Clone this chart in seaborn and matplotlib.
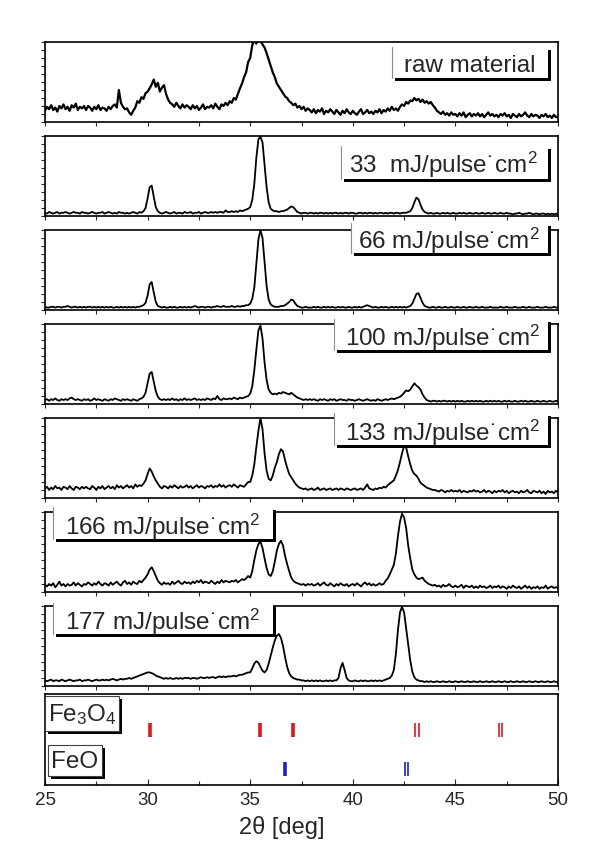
import numpy as np
import seaborn as sns
import matplotlib.pyplot as plt
from matplotlib.patches import Rectangle
from matplotlib.lines import Line2D
from matplotlib.ticker import MultipleLocator

# 2theta grid, 0.1 deg step
two_theta = np.round(np.arange(250, 501) / 10, 1)

# intensities in % of panel height
raw = [
    14, 19, 16, 21, 15, 18, 13, 20, 17, 22,
    16, 19, 14, 21, 18, 23, 15, 19, 17, 20,
    15, 20, 18, 14, 19, 16, 21, 15, 18, 17,
    14, 19, 16, 20, 22, 18, 40, 24, 19, 16,
    17, 12, 9, 14, 18, 26, 24, 31, 29, 36,
    38, 42, 47, 53, 44, 49, 38, 43, 46, 35,
    28, 24, 22, 19, 24, 20, 17, 22, 18, 21,
    19, 16, 21, 17, 20, 15, 18, 22, 16, 19,
    18, 21, 17, 23, 19, 16, 22, 20, 24, 21,
    26, 24, 30, 28, 35, 42, 48, 56, 62, 75,
    80, 96, 104, 98, 106, 101, 97, 93, 86, 78,
    70, 62, 56, 48, 44, 40, 36, 32, 30, 26,
    24, 21, 23, 18, 20, 16, 19, 14, 17, 15,
    12, 16, 11, 15, 13, 17, 10, 14, 12, 16,
    13, 10, 15, 12, 9, 14, 11, 16, 12, 10,
    14, 11, 9, 13, 16, 10, 12, 15, 11, 13,
    10, 14, 12, 16, 11, 15, 13, 17, 14, 19,
    15, 17, 14, 19, 22, 20, 25, 23, 27, 26,
    30, 27, 29, 25, 28, 24, 26, 23, 25, 21,
    18, 14, 12, 10, 13, 9, 11, 8, 12, 9,
    10, 7, 11, 8, 12, 6, 9, 11, 7, 10,
    8, 11, 7, 10, 6, 9, 12, 8, 10, 7,
    9, 6, 10, 8, 11, 7, 9, 5, 10, 8,
    6, 10, 7, 9, 12, 8, 6, 10, 7, 9,
    8, 5, 9, 7, 10, 6, 8, 5, 9, 6,
    7]

p33 = [
    4, 3, 5, 4, 3, 4, 5, 3, 4, 4,
    5, 4, 3, 4, 5, 4, 4, 3, 5, 4,
    4, 3, 4, 5, 4, 3, 4, 4, 5, 3,
    4, 5, 4, 3, 4, 3, 5, 4, 4, 3,
    4, 3, 4, 5, 4, 3, 5, 4, 6, 10,
    22, 36, 38, 24, 11, 6, 4, 3, 4, 5,
    4, 3, 4, 5, 3, 4, 4, 3, 5, 4,
    4, 5, 3, 4, 4, 5, 3, 4, 5, 4,
    4, 5, 4, 5, 4, 5, 5, 4, 7, 5,
    5, 6, 5, 6, 5, 7, 6, 7, 8, 9,
    11, 20, 40, 73, 96, 99, 92, 64, 36, 17,
    9, 7, 6, 6, 5, 6, 6, 7, 8, 10,
    12, 11, 8, 5, 4, 3, 4, 4, 3, 4,
    4, 3, 4, 3, 4, 4, 3, 4, 3, 4,
    3, 4, 4, 3, 4, 3, 4, 4, 3, 4,
    4, 3, 3, 4, 4, 3, 4, 3, 4, 4,
    3, 4, 3, 4, 4, 3, 4, 3, 4, 4,
    3, 4, 4, 3, 4, 4, 4, 5, 6, 10,
    17, 23, 21, 14, 8, 5, 4, 3, 4, 3,
    3, 4, 3, 3, 4, 3, 4, 3, 3, 4,
    3, 3, 4, 3, 4, 3, 3, 4, 3, 3,
    4, 3, 3, 4, 3, 3, 4, 3, 3, 4,
    3, 3, 4, 3, 3, 4, 3, 3, 2, 3,
    3, 4, 3, 2, 3, 3, 4, 3, 2, 3,
    3, 2, 3, 3, 2, 3, 2, 3, 2, 3,
    2]

p66 = [
    4, 3, 3, 4, 4, 3, 4, 4, 3, 4,
    4, 5, 4, 3, 4, 4, 3, 4, 3, 4,
    3, 4, 4, 3, 4, 3, 4, 3, 4, 3,
    4, 3, 4, 3, 3, 4, 3, 4, 3, 4,
    3, 4, 3, 4, 3, 4, 4, 5, 6, 9,
    18, 32, 35, 22, 10, 5, 4, 3, 4, 3,
    3, 4, 3, 4, 3, 3, 4, 3, 4, 3,
    4, 3, 4, 5, 4, 3, 4, 4, 3, 4,
    4, 3, 4, 4, 5, 4, 4, 5, 4, 4,
    4, 5, 4, 4, 5, 4, 5, 5, 6, 6,
    8, 14, 28, 58, 88, 100, 90, 60, 30, 13,
    7, 5, 4, 4, 4, 5, 5, 6, 8, 10,
    13, 12, 8, 5, 4, 3, 3, 4, 3, 3,
    3, 4, 3, 4, 3, 3, 4, 3, 4, 3,
    4, 3, 3, 4, 3, 4, 3, 3, 4, 3,
    3, 4, 3, 4, 3, 4, 5, 6, 5, 4,
    3, 4, 3, 3, 4, 3, 4, 3, 3, 4,
    3, 4, 3, 4, 3, 4, 3, 4, 5, 8,
    14, 20, 21, 15, 9, 5, 4, 3, 3, 4,
    3, 3, 4, 3, 3, 4, 3, 3, 4, 3,
    3, 4, 3, 3, 4, 3, 3, 4, 3, 3,
    4, 3, 3, 4, 3, 3, 3, 4, 3, 3,
    3, 3, 4, 3, 3, 4, 3, 3, 3, 4,
    3, 3, 3, 4, 3, 3, 4, 3, 3, 3,
    4, 3, 3, 3, 4, 3, 3, 3, 4, 3,
    3]

p100 = [
    5, 6, 4, 6, 5, 7, 5, 4, 6, 5,
    6, 5, 7, 8, 6, 5, 6, 5, 4, 6,
    5, 6, 4, 5, 7, 5, 6, 5, 4, 6,
    5, 4, 6, 5, 7, 6, 5, 4, 6, 5,
    6, 5, 4, 6, 5, 4, 6, 7, 9, 14,
    26, 38, 40, 28, 16, 9, 6, 5, 6, 5,
    6, 5, 7, 5, 6, 4, 6, 5, 7, 5,
    6, 5, 6, 7, 5, 6, 5, 6, 5, 7,
    6, 5, 7, 6, 10, 6, 5, 7, 6, 6,
    7, 6, 8, 7, 6, 8, 7, 8, 9, 10,
    13, 22, 42, 68, 92, 98, 82, 52, 30, 18,
    14, 12, 13, 12, 14, 13, 15, 14, 13, 12,
    14, 12, 10, 8, 7, 6, 5, 6, 5, 6,
    5, 6, 5, 4, 6, 5, 6, 5, 4, 6,
    5, 6, 4, 5, 6, 5, 5, 4, 6, 5,
    5, 4, 5, 6, 5, 4, 5, 6, 5, 4,
    5, 4, 6, 5, 4, 5, 6, 5, 6, 7,
    6, 7, 8, 9, 11, 14, 17, 16, 18, 22,
    26, 23, 21, 18, 12, 8, 5, 4, 3, 4,
    4, 3, 4, 3, 4, 4, 3, 4, 3, 4,
    3, 4, 3, 4, 3, 3, 4, 3, 4, 3,
    4, 3, 4, 3, 3, 4, 3, 4, 3, 4,
    3, 4, 3, 3, 4, 3, 4, 3, 3, 4,
    3, 3, 4, 3, 4, 3, 3, 4, 3, 3,
    4, 3, 3, 4, 3, 3, 4, 3, 3, 4,
    3]

p133 = [
    12, 14, 10, 13, 11, 15, 12, 13, 10, 14,
    13, 11, 15, 12, 10, 14, 13, 11, 14, 12,
    14, 12, 11, 15, 13, 10, 14, 12, 15, 11,
    13, 15, 12, 14, 11, 16, 13, 15, 12, 14,
    16, 13, 15, 12, 17, 14, 16, 15, 18, 22,
    30, 37, 33, 27, 22, 18, 14, 12, 15, 14,
    12, 15, 13, 16, 14, 12, 15, 13, 14, 16,
    13, 15, 12, 14, 16, 13, 15, 14, 12, 15,
    14, 16, 13, 15, 14, 17, 14, 16, 13, 15,
    16, 14, 17, 15, 13, 16, 15, 14, 17, 20,
    20, 28, 42, 64, 84, 100, 86, 56, 34, 24,
    22, 28, 38, 45, 55, 61, 58, 47, 38, 30,
    26, 22, 18, 15, 13, 12, 11, 12, 10, 11,
    12, 10, 11, 13, 10, 11, 12, 10, 11, 12,
    10, 11, 12, 10, 12, 11, 10, 12, 11, 10,
    11, 12, 10, 11, 12, 10, 13, 17, 12, 11,
    10, 12, 11, 13, 12, 14, 13, 16, 18, 20,
    22, 28, 35, 45, 56, 65, 63, 52, 42, 34,
    30, 28, 24, 19, 17, 15, 13, 12, 11, 10,
    10, 9, 8, 10, 9, 7, 9, 8, 10, 8,
    9, 8, 10, 7, 9, 8, 7, 9, 8, 10,
    8, 9, 7, 8, 10, 7, 9, 8, 6, 9,
    7, 9, 8, 10, 7, 9, 6, 8, 9, 7,
    8, 6, 9, 7, 8, 10, 7, 6, 9, 8,
    7, 9, 6, 8, 5, 9, 7, 8, 6, 9,
    7]

p166 = [
    9, 7, 10, 8, 11, 6, 9, 13, 8, 10,
    7, 10, 8, 9, 12, 8, 11, 9, 7, 10,
    9, 12, 10, 8, 11, 9, 13, 10, 8, 11,
    10, 8, 12, 9, 11, 13, 10, 8, 12, 14,
    10, 12, 9, 13, 11, 10, 14, 12, 15, 18,
    22, 28, 31, 26, 20, 14, 11, 9, 12, 10,
    11, 9, 13, 10, 12, 14, 11, 10, 13, 11,
    12, 10, 13, 11, 14, 12, 15, 11, 13, 12,
    11, 14, 12, 10, 13, 11, 15, 12, 14, 13,
    12, 14, 13, 15, 12, 14, 16, 15, 17, 20,
    18, 26, 40, 52, 60, 63, 55, 42, 30, 22,
    20, 26, 38, 52, 60, 64, 58, 45, 35, 26,
    18, 14, 12, 11, 10, 9, 10, 8, 10, 9,
    10, 8, 9, 11, 8, 10, 12, 9, 8, 11,
    9, 7, 10, 8, 11, 9, 8, 10, 7, 9,
    10, 8, 11, 9, 7, 10, 12, 9, 11, 8,
    10, 8, 9, 11, 9, 10, 14, 17, 22, 28,
    34, 48, 70, 88, 98, 93, 80, 58, 42, 28,
    22, 18, 16, 17, 18, 14, 12, 10, 9, 8,
    9, 7, 8, 6, 9, 7, 8, 10, 7, 6,
    8, 6, 7, 9, 5, 8, 7, 6, 8, 5,
    7, 5, 8, 6, 7, 5, 6, 8, 5, 7,
    6, 8, 5, 7, 6, 4, 7, 5, 8, 6,
    5, 7, 4, 6, 8, 5, 7, 4, 6, 5,
    7, 4, 6, 5, 8, 4, 6, 7, 5, 6,
    5]

p177 = [
    7, 6, 7, 8, 6, 7, 7, 6, 8, 7,
    6, 7, 8, 7, 6, 7, 7, 8, 6, 7,
    7, 8, 7, 6, 7, 8, 7, 7, 8, 7,
    8, 7, 8, 9, 8, 7, 8, 9, 8, 9,
    9, 10, 9, 10, 11, 12, 13, 14, 15, 16,
    17, 17, 16, 15, 13, 12, 11, 10, 9, 10,
    9, 10, 9, 9, 10, 9, 10, 9, 10, 10,
    10, 9, 10, 10, 9, 10, 11, 10, 10, 11,
    10, 11, 11, 10, 11, 12, 11, 12, 11, 12,
    12, 12, 13, 12, 13, 14, 14, 15, 16, 17,
    17, 22, 28, 31, 29, 24, 19, 17, 20, 28,
    38, 48, 57, 63, 65, 60, 50, 36, 24, 16,
    12, 10, 9, 8, 8, 7, 7, 6, 7, 6,
    7, 6, 7, 6, 7, 6, 6, 7, 6, 7,
    6, 7, 7, 10, 22, 29, 20, 10, 7, 6,
    6, 7, 6, 6, 7, 6, 7, 6, 6, 7,
    6, 7, 6, 7, 6, 7, 8, 9, 10, 13,
    20, 40, 70, 92, 99, 92, 72, 52, 32, 18,
    11, 8, 7, 6, 6, 5, 6, 5, 6, 5,
    5, 6, 5, 5, 6, 5, 5, 6, 5, 5,
    6, 5, 5, 6, 5, 5, 6, 5, 5, 6,
    5, 5, 6, 5, 5, 6, 5, 5, 6, 5,
    5, 6, 5, 5, 6, 5, 5, 6, 5, 5,
    6, 5, 5, 6, 5, 5, 6, 5, 5, 6,
    5, 5, 6, 5, 5, 6, 5, 5, 6, 5,
    5]

curves = [raw, p33, p66, p100, p133, p166, p177]
unit = ' mJ/pulse\u02d9cm$^2$'
labels = ['raw material', '33 ' + unit, '66' + unit, '100' + unit,
          '133' + unit, '166' + unit, '177' + unit]

# reference lines (deg)
fe3o4_single = [30.11, 35.49, 37.11]
fe3o4_double = [43.13, 47.21]
feo_single = [36.68]
feo_double = [42.61]

W, H = 600, 862
sns.set_style('ticks')
plt.rcParams['font.family'] = ['Liberation Sans', 'DejaVu Sans']
plt.rcParams['mathtext.default'] = 'regular'
plt.rcParams['axes.edgecolor'] = 'black'

fig = plt.figure(figsize=(6, 8.62), dpi=100)


def px_axes(top, height):
    return fig.add_axes([45 / W, 1 - (top + height) / H, 513 / W, height / H])


def label_box(text, x0, x1, y0, y1, ty, tx, frame=False):
    shadow = Rectangle(((x0 + 3) / W, 1 - (y1 + 3) / H), (x1 - x0) / W, (y1 - y0) / H,
                       transform=fig.transFigure, fc='black', ec='none', zorder=5)
    box = Rectangle((x0 / W, 1 - y1 / H), (x1 - x0) / W, (y1 - y0) / H,
                    transform=fig.transFigure, fc='white',
                    ec='0.25' if frame else 'none', lw=0.8, zorder=6)
    fig.add_artist(shadow)
    fig.add_artist(box)
    if not frame:
        fig.add_artist(Line2D([x0 / W, x0 / W], [1 - y0 / H, 1 - y1 / H],
                              transform=fig.transFigure, color='0.55', lw=0.8, zorder=7))
    fig.text(tx / W, 1 - ty / H, text, ha='center', va='center', fontsize=17.5, zorder=8)


panel_tops = [43, 137, 231, 325, 419, 513, 607]
for i, (top, vals) in enumerate(zip(panel_tops, curves)):
    ax = px_axes(top, 80)
    # the raw pattern is much noisier, draw it a bit heavier
    sns.lineplot(x=two_theta, y=vals, ax=ax, color='black', lw=1.6 if i == 0 else 1.3)
    ax.set_xlim(25, 50)
    ax.set_ylim(0, 100)
    ax.set_yticks(range(0, 101, 10))
    ax.set_yticklabels([])
    ax.set_xticks(np.arange(25, 50.1, 2.5))
    ax.set_xticklabels([])
    ax.tick_params(direction='out', length=3, width=0.8)
    ax.set_xlabel('')
    ax.set_ylabel('')
    for s in ax.spines.values():
        s.set_linewidth(1.2)

# label boxes: text, x0, x1, y0, y1, text y, text x (pixels)
label_box(labels[0], 392, 548, 48, 79, 66, 470)
label_box(labels[1], 341, 548, 147, 180, 165, 443)
label_box(labels[2], 351, 548, 224, 254, 241, 449)
label_box(labels[3], 334, 548, 320, 351, 338, 443)
label_box(labels[4], 334, 548, 414, 446, 433, 443)
label_box(labels[5], 53, 273, 508, 540, 527, 163)
label_box(labels[6], 53, 273, 604, 635, 622, 163)

# bottom panel with reference patterns
axb = px_axes(695, 91)
axb.set_xlim(25, 50)
axb.set_ylim(0, 1)
axb.vlines(fe3o4_single, 0.53, 0.68, color='#e3151b', lw=2.6)
axb.vlines([p + d for p in fe3o4_double for d in (-0.08, 0.08)], 0.53, 0.68,
           color='#e3151b', lw=1.2)
axb.vlines(feo_single, 0.10, 0.25, color='#1c1cd6', lw=2.6)
axb.vlines([p + d for p in feo_double for d in (-0.08, 0.08)], 0.10, 0.25,
           color='#1c1cd6', lw=1.2)
axb.set_yticks([])
axb.xaxis.set_major_locator(MultipleLocator(5))
axb.xaxis.set_minor_locator(MultipleLocator(2.5))
axb.tick_params(axis='x', which='major', direction='in', length=4, width=0.8,
                labelsize=13.5, pad=4)
axb.tick_params(axis='x', which='minor', direction='in', length=3, width=0.8)
for s in axb.spines.values():
    s.set_linewidth(1.2)
axb.set_xlabel('2\u03b8 [deg]', fontsize=17)
axb.xaxis.set_label_coords(0.462, -0.46)
axb.xaxis.label.set_verticalalignment('center')

label_box('Fe$_3$O$_4$', 45, 119, 697, 732, 715, 82, frame=True)
label_box('FeO', 48, 102, 746, 777, 762, 75, frame=True)

fig.savefig('out.png', dpi=100)
